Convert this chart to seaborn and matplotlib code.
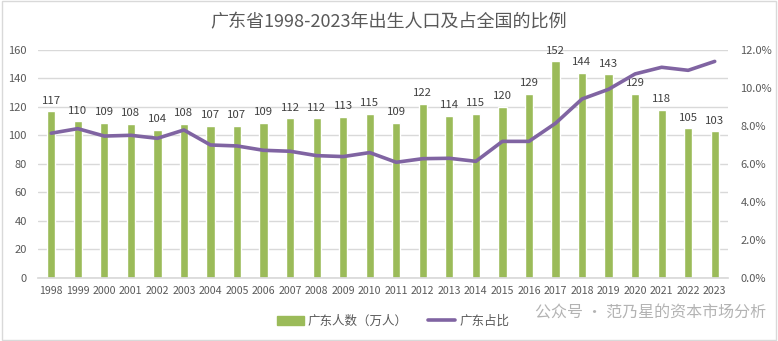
import numpy as np
import pandas as pd
import matplotlib
matplotlib.use("Agg")
import matplotlib.pyplot as plt
from matplotlib.lines import Line2D
from matplotlib.patches import Patch, Rectangle
import seaborn as sns

years = [str(y) for y in range(1998, 2024)]
births = [117, 110, 109, 108, 104, 108, 107, 107, 109, 112, 112, 113, 115, 109,
          122, 114, 115, 120, 129, 152, 144, 143, 129, 118, 105, 103]
share = [7.62, 7.86, 7.47, 7.51, 7.35, 7.79, 7.00, 6.95, 6.72, 6.67, 6.44, 6.39, 6.60,
         6.09, 6.28, 6.30, 6.14, 7.19, 7.19, 8.14, 9.42, 9.93, 10.74, 11.09, 10.93, 11.40]
title = "广东省1998-2023年出生人口及占全国的比例"
bar_label = "广东人数（万人）"
line_label = "广东占比"
watermark = "公众号 · 范乃星的资本市场分析"

sns.set_theme(style="white")
plt.rcParams["font.family"] = ["Noto Sans CJK SC", "DejaVu Sans"]

df = pd.DataFrame({"year": years, "births": births, "share": share})
df["pos"] = np.arange(len(df))

BAR = "#9BBB59"
LINE = "#8064A2"
TXT = "#595959"

fig = plt.figure(figsize=(7.78, 3.41), dpi=100)
ax = fig.add_axes([0.0488, 0.1848, 0.8869, 0.6686])

sns.barplot(data=df, x="year", y="births", color=BAR, width=0.31,
            saturation=1, ax=ax)
ax.set_ylim(0, 160)
ax.set_yticks(range(0, 161, 20))
ax.set_xlim(-0.5, len(df) - 0.5)
ax.yaxis.grid(True, color="#D9D9D9", linewidth=1)
ax.set_axisbelow(True)
for s in ["top", "right", "left"]:
    ax.spines[s].set_visible(False)
ax.spines["bottom"].set_color("#D9D9D9")
ax.set_xlabel("")
ax.set_ylabel("")
ax.tick_params(axis="x", length=0, pad=6, labelsize=7.6, labelcolor=TXT)
ax.tick_params(axis="y", length=0, pad=8, labelsize=8, labelcolor=TXT)

for p, v in zip(df["pos"], df["births"]):
    ax.text(p, v + 4, str(v), ha="center", va="bottom", fontsize=8.2, color="#404040")

ax2 = ax.twinx()
sns.lineplot(data=df, x="pos", y="share", color=LINE, linewidth=2.6, ax=ax2)
ax2.set_ylim(0, 12)
ax2.set_yticks(range(0, 13, 2))
ax2.set_yticklabels([f"{t:.1f}%" for t in range(0, 13, 2)])
ax2.set_xlim(-0.5, len(df) - 0.5)
for s in ["top", "right", "left", "bottom"]:
    ax2.spines[s].set_visible(False)
ax2.set_xlabel("")
ax2.set_ylabel("")
ax2.tick_params(axis="y", length=0, pad=9, labelsize=8, labelcolor=TXT)
ax2.grid(False)

fig.text(0.5, 0.935, title, ha="center", va="center", fontsize=13, color=TXT)

handles = [Patch(facecolor=BAR, edgecolor=BAR, label=bar_label),
           Line2D([0], [0], color=LINE, linewidth=2.6, label=line_label)]
fig.legend(handles=handles, loc="center", bbox_to_anchor=(0.505, 0.058), ncol=2,
           frameon=False, fontsize=9, labelcolor=TXT, handlelength=2.2,
           handletextpad=0.3, columnspacing=1.6)

fig.text(0.985, 0.083, watermark, ha="right", va="center", fontsize=11.5,
         color="#A6A6A6", alpha=0.85)

fig.patches.append(Rectangle((0.002, 0.004), 0.996, 0.992, transform=fig.transFigure,
                             fill=False, edgecolor="#D9D9D9", linewidth=1))

fig.savefig("out.png", dpi=100)
